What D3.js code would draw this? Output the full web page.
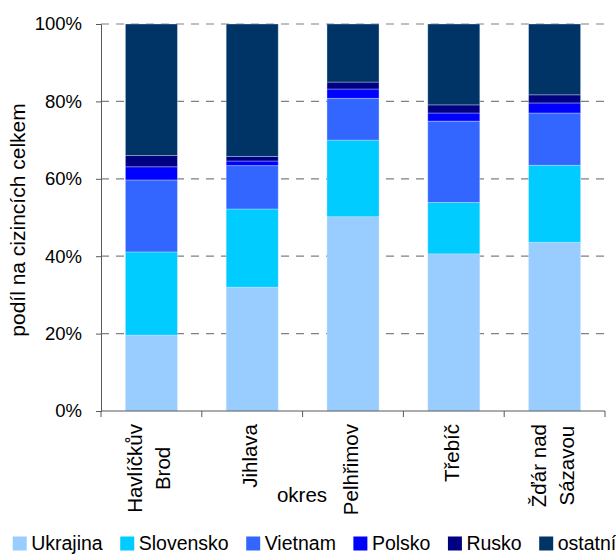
<!DOCTYPE html>
<html>
<head>
<meta charset="utf-8">
<script src="https://cdn.jsdelivr.net/npm/d3@7"></script>
<style>
  html, body { margin: 0; padding: 0; background: #fff; }
  svg { display: block; font-family: "Liberation Sans", Arial, sans-serif; }
</style>
</head>
<body>
<svg id="chart" width="616" height="554"></svg>
<script>
// ---- data ----
const categories = ["Havlíčkův Brod", "Jihlava", "Pelhřimov", "Třebíč", "Žďár nad Sázavou"];
const categoryLines = [["Havlíčkův", "Brod"], ["Jihlava"], ["Pelhřimov"], ["Třebíč"], ["Žďár nad", "Sázavou"]];
const seriesNames = ["Ukrajina", "Slovensko", "Vietnam", "Polsko", "Rusko", "ostatní"];
const ukrajina  = [19.6, 32.0, 50.2, 40.6, 43.6];
const slovensko = [21.5, 20.2, 19.8, 13.3, 19.9];
const vietnam   = [18.6, 11.2, 10.8, 21.0, 13.5];
const polsko    = [3.4, 1.2, 2.4, 2.1, 2.6];
const rusko     = [2.9, 1.2, 1.8, 2.1, 2.1];
const ostatni   = [34.0, 34.2, 15.0, 20.9, 18.3];
const yTicks = [0, 20, 40, 60, 80, 100];
const yTickLabels = ["0%", "20%", "40%", "60%", "80%", "100%"];
const colors = ["#99CCFF", "#00CCFF", "#3366FF", "#0000FF", "#000080", "#003366"];

const seriesValues = [ukrajina, slovensko, vietnam, polsko, rusko, ostatni];
const table = categories.map((c, i) => {
  const row = { cat: c };
  seriesNames.forEach((s, j) => row[s] = seriesValues[j][i]);
  return row;
});

// ---- layout ----
const svg = d3.select("#chart");
const mLeft = 101, mRight = 605, mTop = 24, mBottom = 411;
const FONT = "Liberation Sans, Arial, sans-serif";

const x = d3.scaleBand().domain(categories).range([mLeft, mRight])
  .paddingInner(0.484).paddingOuter(0.242);
const y = d3.scaleLinear().domain([0, 100]).range([mBottom, mTop]);
const color = d3.scaleOrdinal().domain(seriesNames).range(colors);

// gridlines
svg.append("g").selectAll("line").data(yTicks.filter(t => t > 0)).join("line")
  .attr("x1", mLeft).attr("x2", mRight)
  .attr("y1", d => y(d)).attr("y2", d => y(d))
  .attr("stroke", "#808080").attr("stroke-width", 1.2)
  .attr("stroke-dasharray", "8,7");

// bars
const stacked = d3.stack().keys(seriesNames)(table);
svg.append("g").selectAll("g").data(stacked).join("g")
  .attr("fill", d => color(d.key))
  .selectAll("rect").data(d => d).join("rect")
  .attr("x", d => x(d.data.cat))
  .attr("width", x.bandwidth())
  .attr("y", d => y(d[1]))
  .attr("height", d => y(d[0]) - y(d[1]))
  .attr("stroke", "rgba(220,235,255,0.45)")
  .attr("stroke-width", 0.8);

// y axis
const yAxis = d3.axisLeft(y).tickValues(yTicks)
  .tickFormat((d, i) => yTickLabels[i]).tickSize(5).tickPadding(14);
const gy = svg.append("g").attr("transform", `translate(${mLeft},0)`).call(yAxis);
gy.attr("font-family", FONT);
gy.select(".domain").attr("stroke", "#595959");
gy.selectAll(".tick line").attr("stroke", "#595959");
gy.selectAll(".tick text").attr("font-size", 18.5).attr("fill", "#000");

// x axis line and boundary ticks
const step = x.step();
const gx = svg.append("g");
gx.append("line").attr("x1", mLeft).attr("x2", mRight).attr("y1", mBottom).attr("y2", mBottom)
  .attr("stroke", "#595959");
gx.selectAll(".bt").data(d3.range(categories.length + 1)).join("line")
  .attr("class", "bt")
  .attr("x1", i => mLeft + i * step).attr("x2", i => mLeft + i * step)
  .attr("y1", mBottom).attr("y2", mBottom + 6)
  .attr("stroke", "#595959");

// category labels (rotated)
const lineGap = 28, labelTop = 424;
categories.forEach((c, i) => {
  const cx = x(c) + x.bandwidth() / 2;
  const lines = categoryLines[i];
  const g = svg.append("g").attr("font-family", FONT);
  const texts = lines.map((t, k) => {
    const bx = cx - 2 + 7 + (k - (lines.length - 1) / 2) * lineGap;
    return g.append("text").text(t)
      .attr("font-size", 20.5).attr("fill", "#000")
      .attr("text-anchor", "middle")
      .attr("data-bx", bx);
  });
  const maxLen = d3.max(texts, t => t.node().getComputedTextLength());
  const cy = labelTop + maxLen / 2;
  texts.forEach(t => {
    const bx = +t.attr("data-bx");
    t.attr("transform", `translate(${bx},${cy}) rotate(-90)`);
  });
});

// axis titles
svg.append("text").text("okres")
  .attr("x", 302).attr("y", 502).attr("font-family", FONT)
  .attr("text-anchor", "middle").attr("font-size", 20.5).attr("fill", "#000");

svg.append("text").text("podíl na cizincích celkem")
  .attr("transform", `translate(25,220) rotate(-90)`).attr("font-family", FONT)
  .attr("text-anchor", "middle").attr("font-size", 21).attr("fill", "#000");

// legend
let lx = 12.7;
const legend = svg.append("g").attr("font-family", FONT);
seriesNames.forEach((s, i) => {
  legend.append("rect").attr("x", lx).attr("y", 536.5).attr("width", 14).attr("height", 14)
    .attr("fill", color(s));
  const t = legend.append("text").text(s)
    .attr("x", lx + 18.5).attr("y", 549.5)
    .attr("font-size", 19.5).attr("fill", "#000");
  lx = lx + 18.5 + t.node().getComputedTextLength() + 17.5;
});
</script>
</body>
</html>
